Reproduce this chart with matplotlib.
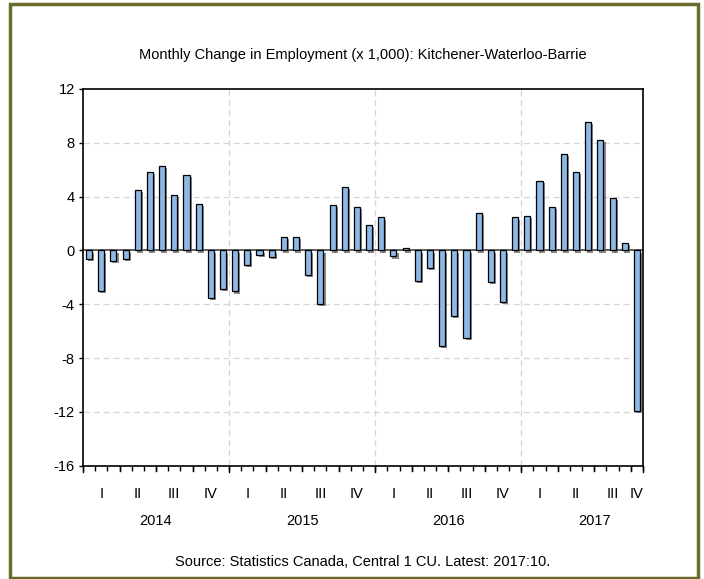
import numpy as np
import matplotlib
matplotlib.use('Agg')
from matplotlib import pyplot as plt
from matplotlib import patheffects as pe
from matplotlib.patches import Rectangle

# monthly change in employment, Jan 2014 - Oct 2017 (thousands)
changes = [
    -0.65, -3.0, -0.75, -0.65, 4.5, 5.8, 6.3, 4.1, 5.6, 3.45, -3.5, -2.85,   # 2014
    -3.05, -1.1, -0.35, -0.5, 1.0, 1.0, -1.8, -4.0, 3.4, 4.7, 3.2, 1.9,     # 2015
    2.45, -0.45, 0.2, -2.3, -1.3, -7.1, -4.9, -6.5, 2.8, -2.35, -3.85, 2.45, # 2016
    2.55, 5.15, 3.25, 7.15, 5.85, 9.55, 8.2, 3.9, 0.55, -11.95,             # 2017
]
years = ['2014', '2015', '2016', '2017']
quarters = ['I', 'II', 'III', 'IV']
yticks = [12, 8, 4, 0, -4, -8, -12, -16]

plt.rcParams['font.family'] = ['Liberation Sans', 'DejaVu Sans']

fig = plt.figure(figsize=(7.04, 5.79), dpi=100)
ax = fig.add_axes([83/704, 1 - 465.7/579, 560/704, 376.7/579])

n = len(changes)
x = np.arange(n) + 0.5
bars = ax.bar(x, changes, width=0.5, color='#8db9e6', edgecolor='black',
              linewidth=0.9, zorder=3)
for b in bars:
    b.set_path_effects([pe.SimplePatchShadow(offset=(1.5, -1.5),
                                             shadow_rgbFace='#555555', alpha=0.7),
                        pe.Normal()])

ax.set_xlim(0, n)
ax.set_ylim(-16, 12)
ax.set_yticks(yticks)
ax.set_yticklabels([str(v) for v in yticks], fontsize=10.5)

# grid
for v in yticks[1:-1]:
    if v != 0:
        ax.axhline(v, color='#d6d6d6', lw=0.9, ls=(0, (5, 3)), zorder=1)
for k in range(1, len(years)):
    ax.axvline(12 * k, color='#d6d6d6', lw=0.9, ls=(0, (5, 3)), zorder=1)
ax.axhline(0, color='#333333', lw=1.1, zorder=2)

# x ticks: months, quarters, years
ax.set_xticks(np.arange(0, n + 1))
ax.set_xticklabels([])
ax.tick_params(axis='x', direction='out', length=3.5, width=1.0, color='black')
ax.tick_params(axis='y', direction='out', length=3, width=1.0, pad=3)
for m in range(0, n + 1):
    if m % 12 == 0 or m == n:
        ln = 6
    elif m % 3 == 0:
        ln = 5
    else:
        continue
    ax.plot([m, m], [0, -ln / 376.7], color='black', lw=1.0,
            transform=ax.get_xaxis_transform(), clip_on=False)

trans = ax.get_xaxis_transform()
for q in range(0, (n + 2) // 3):
    center = q * 3 + 1.5
    if center > n:
        center = n - 0.5
    ax.text(min(center, n - 0.5) if q * 3 + 3 > n else center, -0.075,
            quarters[q % 4], transform=trans, ha='center', va='center', fontsize=10.5)
for k, yr in enumerate(years):
    ax.text(12 * k + 6, -0.147, yr, transform=trans, ha='center', va='center',
            fontsize=10.5)

for s in ax.spines.values():
    s.set_color('black')
    s.set_linewidth(1.2)

fig.text(363/704, 1 - 55/579, 'Monthly Change in Employment (x 1,000): Kitchener-Waterloo-Barrie',
         ha='center', va='center', fontsize=10.5)
fig.text(363/704, 1 - 562/579, 'Source: Statistics Canada, Central 1 CU. Latest: 2017:10.',
         ha='center', va='center', fontsize=10.5)

# outer frame
fig.patches.append(Rectangle((10/704, 1/579), 688/704, 574/579, transform=fig.transFigure,
                             fill=False, edgecolor='#6b6b2b', linewidth=2.5))

fig.savefig('out.png', dpi=100)
